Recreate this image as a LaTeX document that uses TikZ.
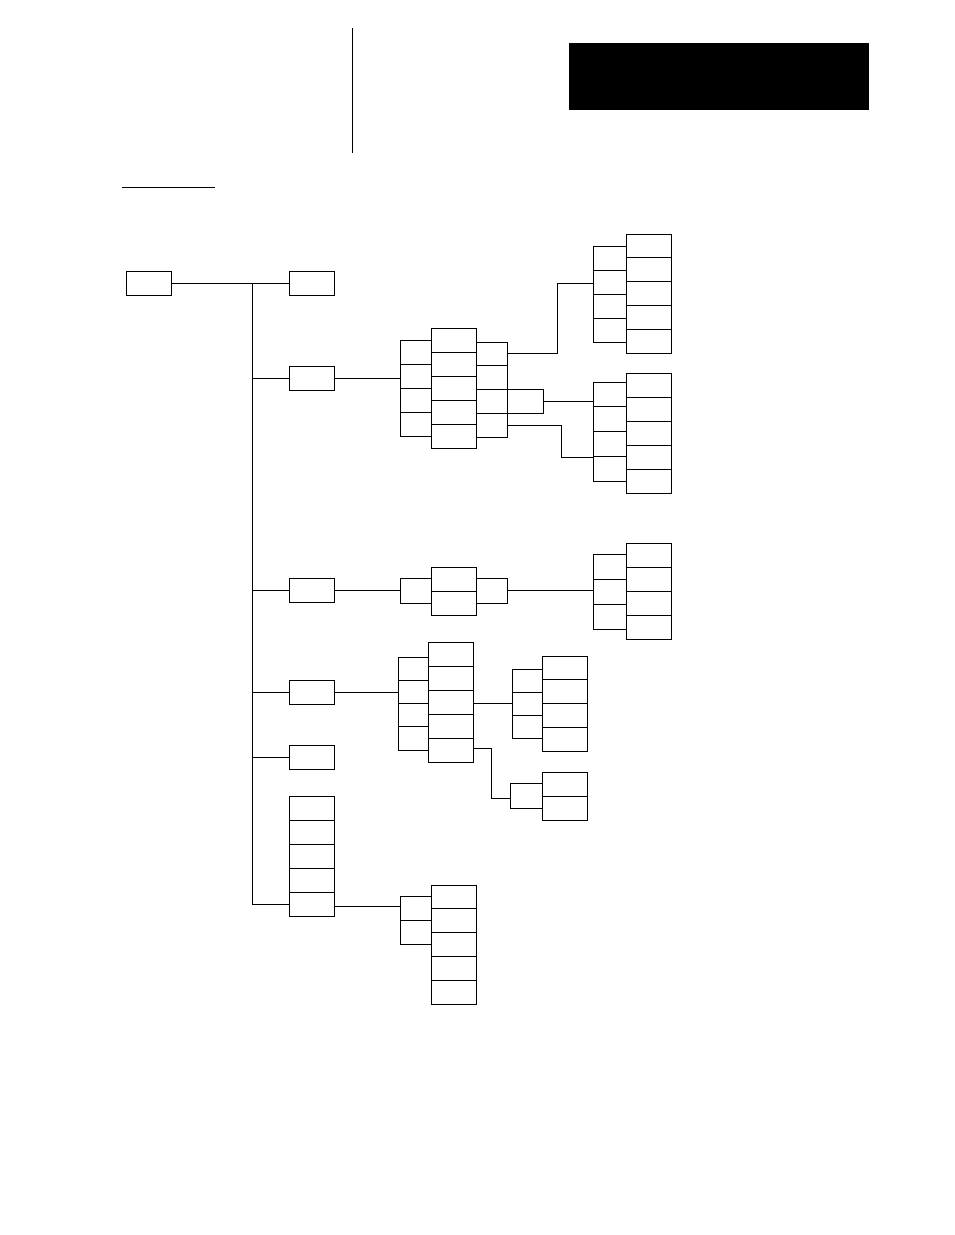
\documentclass[tikz,border=0pt]{standalone}
\begin{document}
\begin{tikzpicture}[x=1pt,y=-1pt,line width=1pt,
  cell/.style={draw,inner sep=0pt,outer sep=0pt,anchor=north west}]
\useasboundingbox (0,0) rectangle (954,1235);
\newcommand{\stk}[6]{%
  \foreach \i in {1,...,#6}{%
    \pgfmathsetmacro{\yy}{#4+(\i-1)*#5}%
    \pgfmathsetmacro{\ww}{#3-#2}%
    \node[cell,minimum width=\ww pt,minimum height=#5 pt] (#1-\i) at (#2,\yy) {};}}
% header
\draw (352,28) -- (352,153);
\fill (569,43) rectangle (869,110);
\draw (122,187) -- (215,187);
% root and level 1
\stk{root}{126}{171}{271}{24}{1}
\stk{a}{289}{334}{271}{24}{1}
\stk{b}{289}{334}{366}{24}{1}
\stk{c}{289}{334}{578}{24}{1}
\stk{d}{289}{334}{680}{24}{1}
\stk{e}{289}{334}{745}{24}{1}
\stk{f}{289}{334}{796}{24}{5}
\coordinate (t0) at (252,283);
\coordinate (t1) at (252,904);
\draw (root-1.east) -- (t0) -- (t1);
\foreach \n in {a-1,b-1,c-1,d-1,e-1,f-5}{\draw (\n.west) -- (\n.west -| t0);}
% group B
\stk{bl}{400}{431}{340}{24}{4}
\stk{bm}{431}{476}{328}{24}{5}
\stk{br}{476}{507}{342}{23.75}{4}
\stk{bx}{507}{543}{389.5}{23.75}{1}
\draw (b-1.east) -- (b-1.east -| bl-1.west);
\stk{p1}{593}{626}{246}{24}{4}
\stk{q1}{626}{671}{234}{23.8}{5}
\stk{p2}{593}{626}{382}{24.75}{4}
\stk{q2}{626}{671}{373}{24}{5}
\coordinate (k1) at (557,283);
\draw (br-1.east) -| (k1) -- (k1 -| p1-1.west);
\draw (bx-1.east) -- (bx-1.east -| p2-1.west);
\coordinate (k2) at (561,457);
\draw (br-4.east) -| (k2) -- (k2 -| p2-1.west);
% group C
\stk{cl}{400}{431}{578}{25}{1}
\stk{cm}{431}{476}{567}{24}{2}
\stk{cr}{476}{507}{578}{25}{1}
\stk{p3}{593}{626}{554}{25}{3}
\stk{q3}{626}{671}{543}{24}{4}
\draw (c-1.east) -- (c-1.east -| cl-1.west);
\draw (cr-1.east) -- (cr-1.east -| p3-1.west);
% group D
\stk{dl}{398}{428}{657}{23.25}{4}
\stk{dm}{428}{473}{642}{24}{5}
\stk{p4}{512}{542}{669}{23.3}{3}
\stk{q4}{542}{587}{656}{23.75}{4}
\stk{p5}{510}{542}{783}{25}{1}
\stk{q5}{542}{587}{772}{24}{2}
\draw (d-1.east) -- (d-1.east -| dl-1.west);
\coordinate (m1) at (473,703);
\draw (m1) -- (m1 -| p4-1.west);
\coordinate (m2) at (473,748);
\coordinate (k3) at (491,798);
\draw (m2) -| (k3) -- (k3 -| p5-1.west);
% group F
\stk{fl}{400}{431}{896}{24}{2}
\stk{fm}{431}{476}{885}{23.8}{5}
\coordinate (m3) at (334,906);
\draw (m3) -- (m3 -| fl-1.west);
\end{tikzpicture}
\end{document}
